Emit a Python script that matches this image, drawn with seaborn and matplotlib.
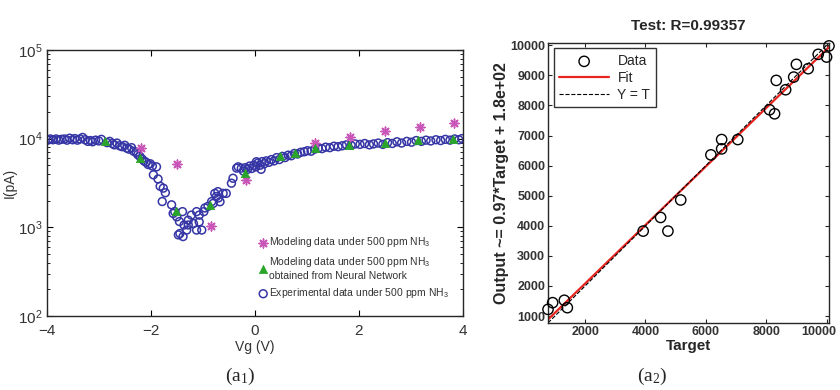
import numpy as np
import pandas as pd
import matplotlib
matplotlib.use('Agg')
import matplotlib.pyplot as plt
import matplotlib.transforms as mtransforms
import seaborn as sns

# (a1) experimental data under 500 ppm NH3
exp_vg = [-3.98, -3.93, -3.88, -3.82, -3.77, -3.72, -3.66, -3.61, -3.56, -3.50, -3.46, -3.41, -3.36,
          -3.31, -3.26, -3.21, -3.16, -3.12, -3.06, -3.00, -2.95,
          -2.84, -2.79, -2.74, -2.70, -2.65, -2.60, -2.55, -2.50, -2.46, -2.42, -2.37, -2.33, -2.28,
          -2.25, -2.21, -2.17, -2.13, -2.09, -2.05, -2.01, -1.97,
          -1.95, -1.89, -1.86, -1.82, -1.76, -1.78, -1.72, -1.60, -1.57, -1.54, -1.50, -1.45, -1.44,
          -1.47, -1.38, -1.36, -1.31, -1.28, -1.28, -1.22, -1.18, -1.12, -1.12, -1.07, -1.07, -1.02,
          -1.39, -0.98, -0.96, -0.90, -0.83, -0.80, -0.77, -0.74, -0.71, -0.70, -0.67, -0.61, -0.55,
          -0.45, -0.42, -0.35, -0.32, -0.26,
          -0.22, -0.18, -0.14, -0.10, -0.06, -0.02, 0.02, 0.03, 0.06, 0.10, 0.12, 0.14, 0.18, 0.22,
          0.27, 0.32, 0.37, 0.42, 0.47, 0.53, 0.58, 0.64, 0.70, 0.76, 0.82, 0.88, 0.95, 1.01, 1.08,
          1.15, 1.22, 1.29, 1.36, 1.44, 1.52, 1.60, 1.68, 1.76, 1.85, 1.93, 2.02, 2.11, 2.20, 2.28,
          2.37, 2.46, 2.55, 2.64, 2.73, 2.82, 2.92, 3.01, 3.10, 3.20, 3.29, 3.38, 3.48, 3.57, 3.66,
          3.75, 3.84, 3.92, 3.98]
exp_i = [9600, 9900, 9700, 9900, 9600, 9800, 9900, 9600, 10100, 9700, 10000, 9600, 9900,
         10300, 9700, 9300, 9500, 9200, 9600, 9400, 9800,
         9000, 9300, 8800, 8500, 8900, 8300, 8100, 8400, 7800, 7600, 7900, 7200, 7000,
         6600, 6300, 5900, 5600, 5400, 5100, 5200, 4900,
         3900, 4800, 3500, 2900, 2760, 1950, 2450, 1790, 1430, 1500, 1310, 1160, 850,
         820, 785, 1060, 930, 1200, 1060, 1370, 1100, 1500, 930, 1150, 1370, 930,
         1500, 1500, 1650, 1720, 1950, 1860, 2410, 2220, 2520, 2140, 1940, 2410, 2410,
         3140, 3570, 4640, 4800, 4640,
         4300, 4700, 4500, 4900, 4600, 5000, 4800, 5480, 5300, 5000, 4500, 5500, 5200, 5600,
         5400, 5800, 5600, 6100, 5800, 6300, 6100, 6500, 6400, 6800, 6700, 7000, 7100, 7300, 7200,
         7600, 7800, 7700, 8000, 7900, 8200, 8100, 8300, 8500, 8400, 8700, 8600, 8800, 8500, 8700,
         8900, 8600, 9000, 8800, 9200, 8900, 9300, 9100, 9500, 9300, 9600, 9400, 9700, 9500, 9800,
         9600, 9900, 9700, 10000]

# (a1) modeling data
model_vg = [-2.18, -1.50, -0.85, -0.17, 1.15, 1.82, 2.50, 3.17, 3.83]
model_i = [7760, 5120, 1030, 3400, 8840, 10500, 12280, 13400, 14860]

# (a1) modeling data from neural network
nn_vg = [-2.88, -2.21, -1.52, -0.86, -0.19, 0.48, 0.77, 1.15, 1.81, 2.50, 3.14, 3.80]
nn_i = [9390, 5980, 1520, 1780, 4050, 6360, 6930, 7760, 8460, 8990, 9640, 9970]

# (a2) regression test set
target = [770, 923, 1310, 1410, 3923, 4500, 4743, 5167, 6167, 6523, 6523, 7057, 8110,
          8277, 8333, 8643, 8910, 9000, 9390, 9723, 10000, 10080]
output = [1220, 1443, 1523, 1277, 3823, 4277, 3823, 4857, 6357, 6557, 6867, 6867, 7857,
          7723, 8833, 8523, 8943, 9367, 9223, 9700, 9610, 9980]

sns.set_style('ticks')
plt.rcParams['font.family'] = ['Liberation Sans', 'DejaVu Sans']
plt.rcParams['mathtext.default'] = 'regular'
plt.rcParams['xtick.direction'] = 'in'
plt.rcParams['ytick.direction'] = 'in'

blue = '#3535a5'
pink = '#c855b8'
green = '#2aa52a'
txt = '#333333'

fig = plt.figure(figsize=(8.4, 3.9), dpi=100)
ax1 = fig.add_axes([0.0556, 0.19, 0.4956, 0.682])
ax2 = fig.add_axes([0.6524, 0.172, 0.3345, 0.718])

# ---- left panel
sns.scatterplot(x=exp_vg, y=exp_i, ax=ax1, marker='o', s=32, facecolor='none',
                edgecolor=blue, linewidth=1.1, label='Experimental data under 500 ppm NH$_3$')
sns.scatterplot(x=model_vg, y=model_i, ax=ax1, marker=(8, 2, 0), s=40, color=pink,
                linewidth=1.1, label='Modeling data under 500 ppm NH$_3$')
sns.scatterplot(x=nn_vg, y=nn_i, ax=ax1, marker='^', s=36, color=green, edgecolor=green,
                linewidth=0.5,
                label='Modeling data under 500 ppm NH$_3$\nobtained from Neural Network')
ax1.set_yscale('log')
ax1.set_xlim(-4, 4)
ax1.set_ylim(1e2, 1e5)
ax1.set_xticks([-4, -2, 0, 2, 4])
ax1.tick_params(which='both', top=True, right=True, colors='black', labelcolor=txt,
                labelsize=11)
ax1.tick_params(axis='x', pad=6)
ax1.tick_params(axis='y', pad=3)
ax1.tick_params(which='major', length=4)
ax1.tick_params(which='minor', length=2)
ax1.set_xlabel('Vg (V)', fontsize=10, color=txt, labelpad=1)
ax1.set_ylabel('I(pA)', fontsize=10, color=txt, labelpad=1)
for s in ax1.spines.values():
    s.set_linewidth(1.0)
h, l = ax1.get_legend_handles_labels()
leg = ax1.legend([h[1], h[2], h[0]], [l[1], l[2], l[0]], loc='upper left',
                 bbox_to_anchor=(0.49, 0.33), frameon=False, fontsize=7.5,
                 handletextpad=0.1, labelspacing=0.55, borderpad=0.2, handlelength=1.0)
for t in leg.get_texts():
    t.set_color(txt)

# ---- right panel
lim = (min(target + output), max(target + output))
sns.scatterplot(x=target, y=output, ax=ax2, marker='o', s=55, facecolor='none',
                edgecolor='black', linewidth=1.0, label='Data', clip_on=False, zorder=3)
sns.regplot(x=np.array(target), y=np.array(output), ax=ax2, scatter=False, ci=None,
            color='#e8241f', line_kws={'linewidth': 1.6}, label='Fit', truncate=False)
sns.lineplot(x=list(lim), y=list(lim), ax=ax2, color='black', linestyle='--',
             linewidth=0.8, label='Y = T')
ax2.set_xlim(lim)
ax2.set_ylim(lim)
ax2.set_xticks([2000, 4000, 6000, 8000, 10000])
ax2.set_yticks([1000, 2000, 3000, 4000, 5000, 6000, 7000, 8000, 9000, 10000])
ax2.tick_params(top=True, right=True, length=3, labelsize=9, labelcolor=txt, pad=2)
for t in ax2.get_xticklabels() + ax2.get_yticklabels():
    t.set_fontweight('bold')
# keep the last x tick label inside the figure
last = ax2.get_xticklabels()[-1]
last.set_transform(last.get_transform() +
                   mtransforms.ScaledTranslation(-8 / 100, 0, fig.dpi_scale_trans))
ax2.set_title('Test: R=0.99357', fontsize=11, fontweight='bold', pad=9)
ax2.set_xlabel('Target', fontsize=11, fontweight='bold', labelpad=1)
ax2.set_ylabel('Output ~= 0.97*Target + 1.8e+02', fontsize=11.5, fontweight='bold',
               labelpad=1)
for s in ax2.spines.values():
    s.set_linewidth(1.0)
leg2 = ax2.legend(loc='upper left', fontsize=10, frameon=True, fancybox=False,
                  edgecolor='black', handlelength=3.6, borderaxespad=0.4,
                  labelspacing=0.2, handletextpad=0.6)
leg2.get_frame().set_linewidth(1.0)

fig.text(0.286, 0.035, '(a$_1$)', fontsize=14, family='Liberation Serif', ha='center',
         va='center')
fig.text(0.776, 0.035, '(a$_2$)', fontsize=14, family='Liberation Serif', ha='center',
         va='center')

fig.savefig('out.png', dpi=100)
